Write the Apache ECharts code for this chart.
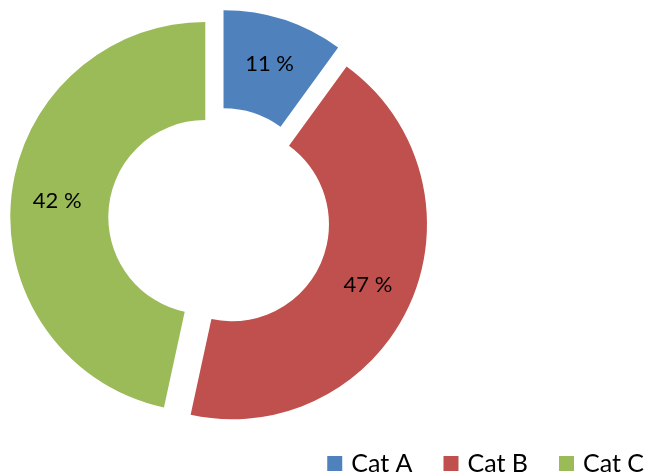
<!DOCTYPE html>
<html>
<head>
<meta charset="utf-8">
<script src="https://cdn.jsdelivr.net/npm/echarts@6/dist/echarts.min.js"></script>
<style>
html,body{margin:0;padding:0;background:#fff;}
#chart{width:649px;height:474px;}
</style>
</head>
<body>
<div id="chart"></div>
<script>
// Categories and slice sizes as drawn (slice angles)
var categories = ['Cat A', 'Cat B', 'Cat C'];
var values = [10, 43.4, 46.6];
// Data labels exactly as printed on the slices
var labelPercents = [11, 47, 42];
var colors = ['#4F81BD', '#C0504D', '#9BBB59'];

var chart = echarts.init(document.getElementById('chart'), null, {renderer: 'canvas'});
var data = categories.map(function (c, i) {
  return { name: c, value: values[i], selected: true, itemStyle: { color: colors[i] } };
});
chart.setOption({
  animation: false,
  legend: {
    data: categories,
    top: 446,
    right: 0,
    itemWidth: 15,
    itemHeight: 15,
    itemGap: 31,
    icon: 'rect',
    selectedMode: false,
    textStyle: { fontFamily: 'Lato', fontSize: 25, color: '#000', padding: [0, 0, 0, 4] }
  },
  series: [{
    type: 'pie',
    center: [219.2, 218.5],
    radius: [97, 195],
    startAngle: 90,
    clockwise: true,
    selectedMode: 'multiple',
    selectedOffset: 14,
    avoidLabelOverlap: false,
    emphasis: { disabled: true },
    label: {
      show: true,
      position: 'inside',
      formatter: function (p) { return labelPercents[p.dataIndex] + ' %'; },
      fontFamily: 'Lato',
      fontSize: 22,
      color: '#000'
    },
    labelLine: { show: false },
    data: data
  }]
});
</script>
</body>
</html>
